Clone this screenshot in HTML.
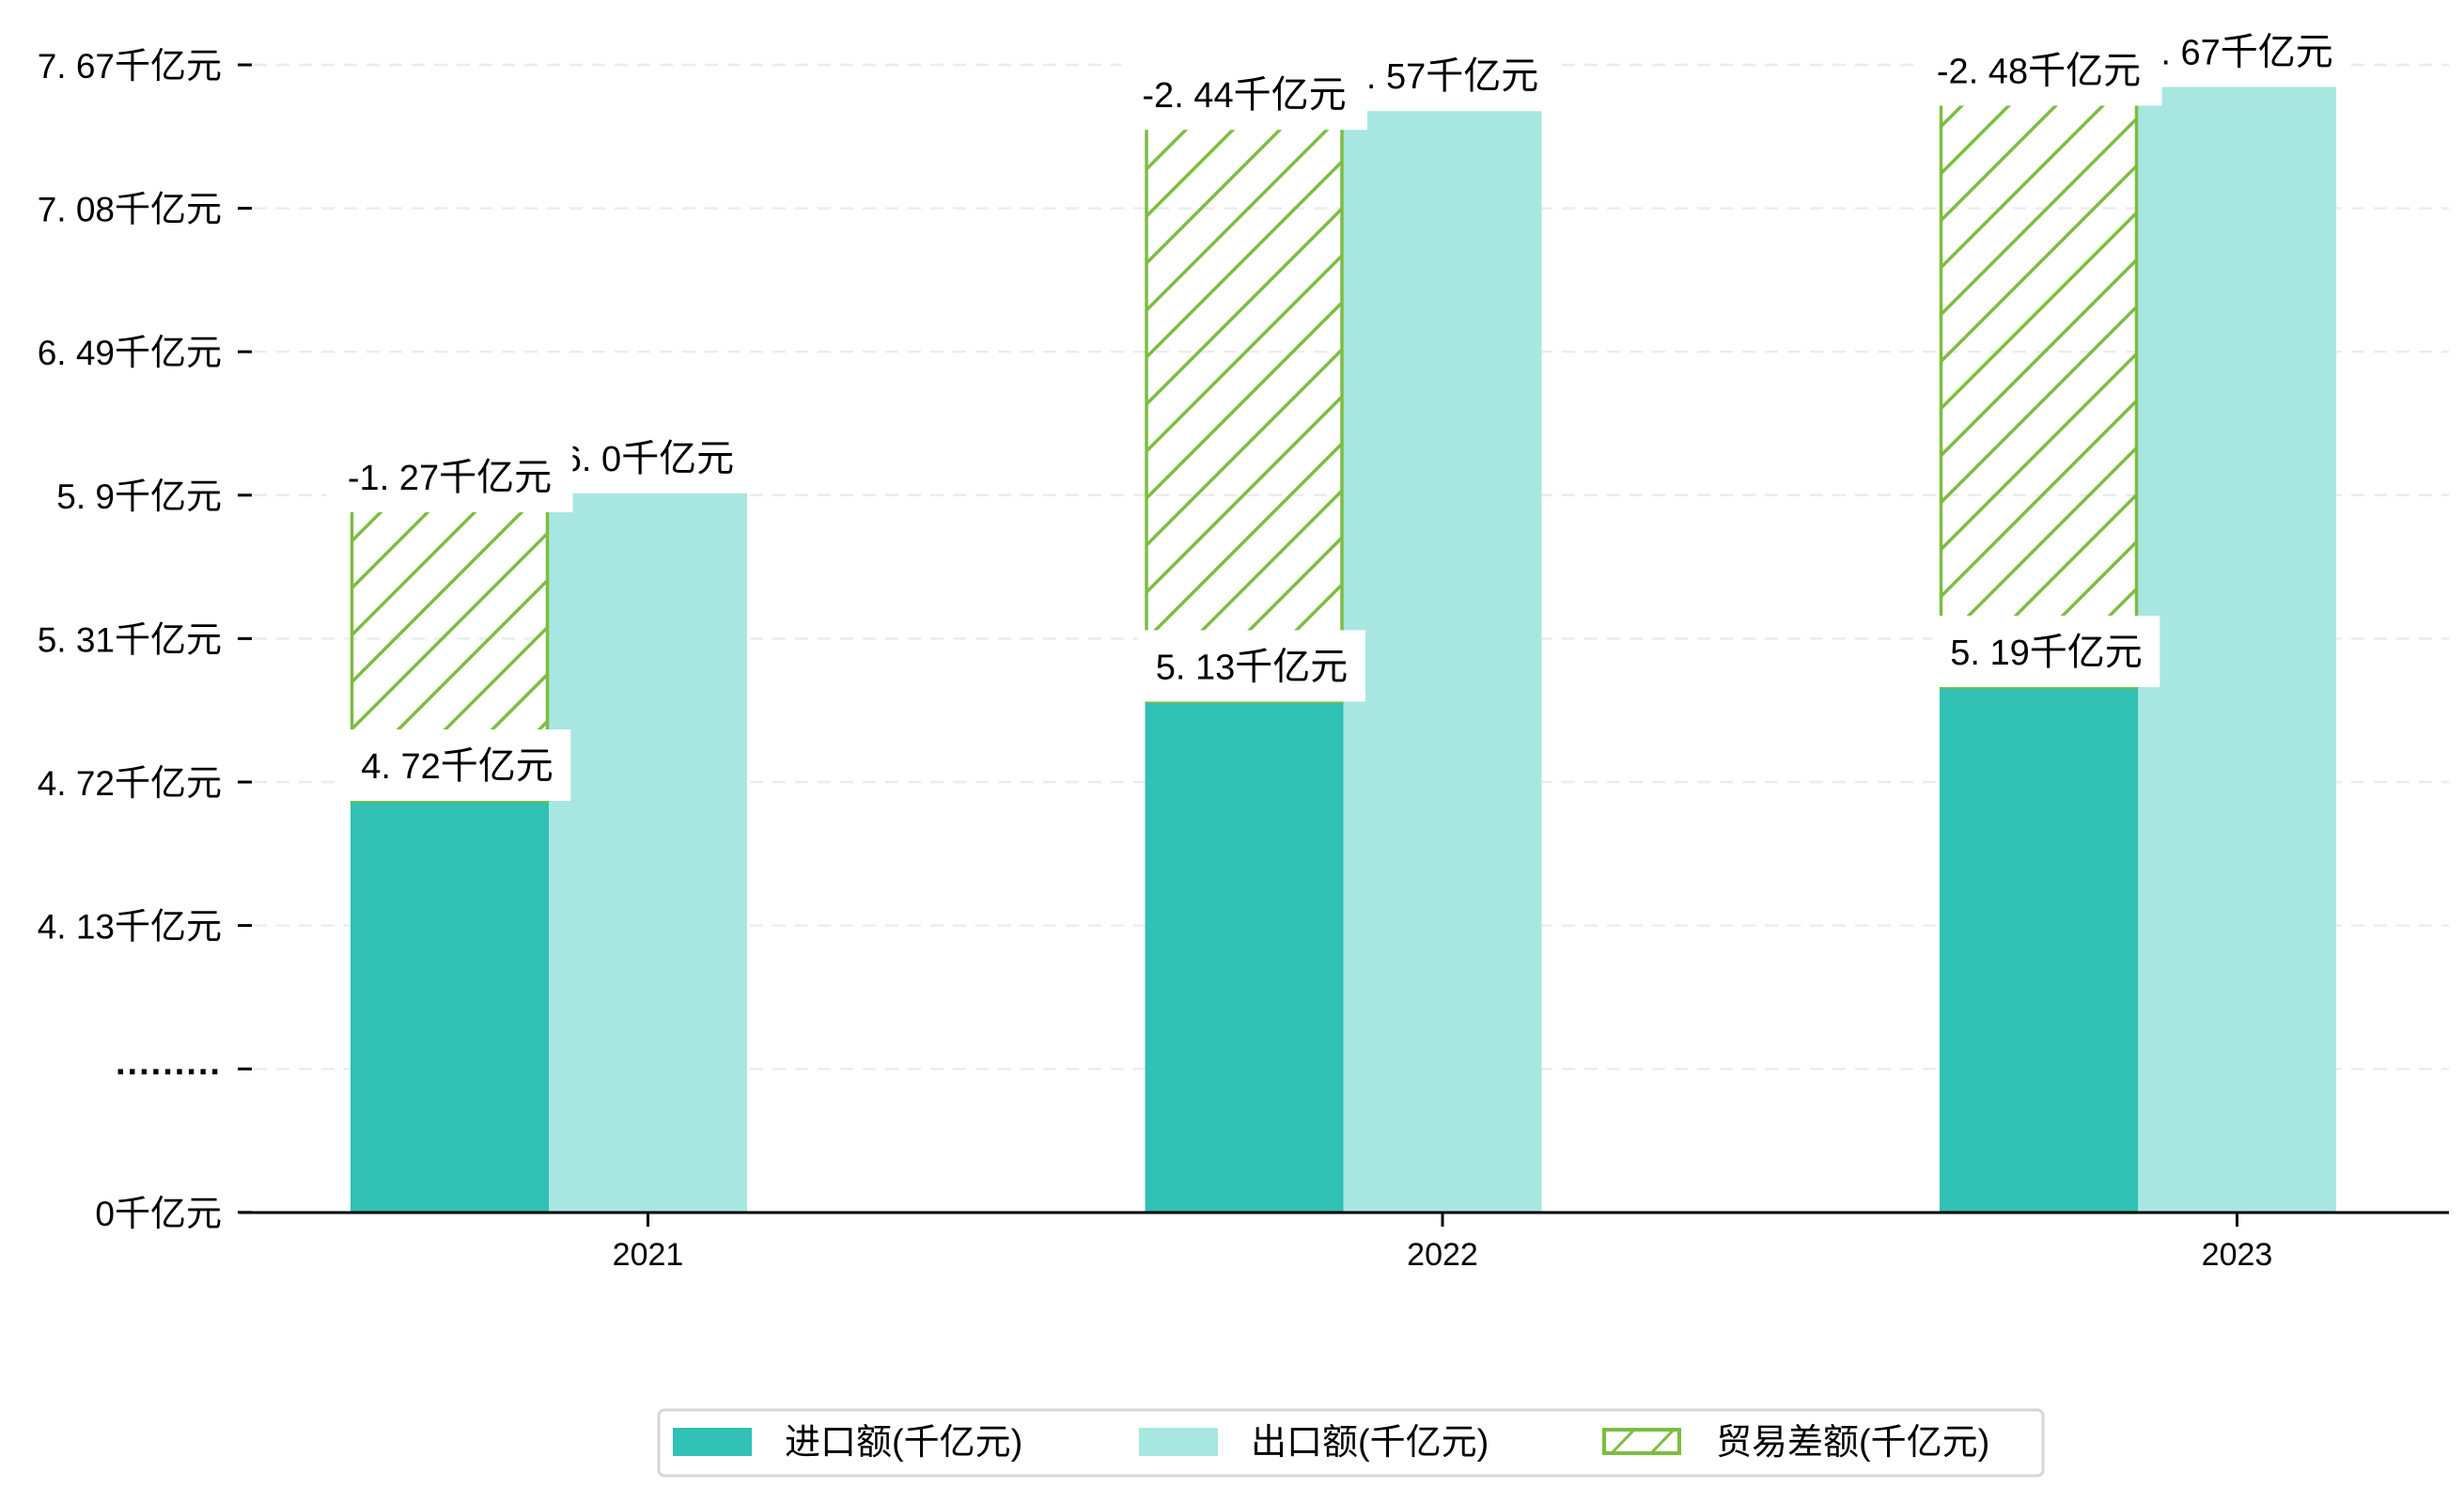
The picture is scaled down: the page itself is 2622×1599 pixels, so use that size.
<!DOCTYPE html>
<html><head><meta charset="utf-8"><style>
html,body{margin:0;padding:0;background:#fff;}
svg{display:block;}
text{font-family:"Liberation Sans","Noto Sans CJK SC",sans-serif;}
</style></head><body>
<svg id="chart" width="2622" height="1599" viewBox="0 0 2622 1599" xmlns="http://www.w3.org/2000/svg">
<defs>
<pattern id="hatch" patternUnits="userSpaceOnUse" width="50" height="50">
<path d="M-5,5 L5,-5 M0,50 L50,0 M45,55 L55,45" stroke="#7cbd41" stroke-width="3.5"/>
</pattern>
</defs>
<g id="grid"></g><g id="bars"></g><g id="axes"></g><g id="labels"></g><g id="legend"></g>
</svg>
<script>
const years = ['2021','2022','2023'];
const importVals = [4.72, 5.13, 5.19];
const exportVals = [5.99, 7.57, 7.67];
const balanceVals = [-1.27, -2.44, -2.48];
const yTickLabels = ['7.67千亿元','7.08千亿元','6.49千亿元','5.9千亿元','5.31千亿元','4.72千亿元','4.13千亿元','………','0千亿元'];
const importText = ['4.72千亿元','5.13千亿元','5.19千亿元'];
const exportText = ['6.0千亿元','7.57千亿元','7.67千亿元'];
const balanceText = ['-1.27千亿元','-2.44千亿元','-2.48千亿元'];

const NS='http://www.w3.org/2000/svg';
const X0=255, X1=2606, Y0=1290;
function yScale(v){ return 852-(v-4.72)*257.5; }
function xLeft(i){ return 373+845.5*i; }
const BW=211;
function mk(tag,attrs,parent){const e=document.createElementNS(NS,tag);for(const k in attrs)e.setAttribute(k,attrs[k]);parent.appendChild(e);return e;}
function setMixed(el,txt,latSize,cjkSize){
  const m=txt.match(/^([\x00-\xff]*)(.*)$/);
  if(m[1]){const a=mk('tspan',{'font-family':'"Liberation Sans",sans-serif','font-size':latSize},el);a.textContent=m[1].replace('.','. ');}
  if(m[2]){const b=mk('tspan',{'font-family':'"Noto Sans CJK SC",sans-serif','font-size':cjkSize},el);b.textContent=m[2];}
}
const grid=document.getElementById('grid'),bars=document.getElementById('bars'),axes=document.getElementById('axes'),labels=document.getElementById('labels'),legend=document.getElementById('legend');

yTickLabels.forEach((t,i)=>{
  const y=69+152.6*i;
  if(i<8){
    const g=mk('line',{x1:270,x2:X1,y1:y,y2:y,stroke:'#ececec','stroke-width':2.5,'stroke-dasharray':'14,10'},grid);
    
    
  }
  const tk=mk('line',{x1:253,x2:268,y1:y,y2:y,stroke:'#000','stroke-width':3},axes);
  
  
  const tx=mk('text',{x:236,y:y+14,'text-anchor':'end',fill:'#000'},axes);
  if(t.startsWith('…')){tx.setAttribute('font-size',38);tx.setAttribute('font-weight','bold');tx.setAttribute('letter-spacing','2');tx.setAttribute('y',y+6);tx.textContent='.........';}
  else setMixed(tx,t,37,38);
  
  
});

function label(txt,cx,bottom,name){
  const nl=txt.replace(/[^\x00-\xff]/g,'').length, nc=(txt.match(/[^\x00-\xff]/g)||[]).length;
  const w=nl*20.4+nc*40+40;
  const r=mk('rect',{x:cx-w/2,y:bottom-76,width:w,height:76,fill:'#fff'},labels);
  
  
  const t=mk('text',{x:cx,y:bottom-24,'text-anchor':'middle',fill:'#000'},labels);
  setMixed(t,txt,38,40);
  
  
}

years.forEach((yr,i)=>{
  const xl=xLeft(i), yi=yScale(importVals[i]), ye=yScale(exportVals[i]);
  const yb=yScale(importVals[i]+Math.abs(balanceVals[i]));
  const a=mk('rect',{x:xl,y:yi,width:BW,height:Y0-yi,fill:'#31c0b4'},bars);
  
  
  const b=mk('rect',{x:xl+BW,y:ye,width:BW,height:Y0-ye,fill:'#a8e7e1'},bars);
  
  
  const c=mk('rect',{x:xl+1.5,y:yb,width:BW-3,height:yi-yb,fill:'url(#hatch)',stroke:'#7cbd41','stroke-width':3.5},bars);
  
  
  const tk=mk('line',{x1:xl+BW*1.5,x2:xl+BW*1.5,y1:Y0,y2:Y0+15,stroke:'#000','stroke-width':3},axes);
  
  
  const tx=mk('text',{x:xl+BW*1.5,y:Y0+56,'text-anchor':'middle','font-size':34,fill:'#000'},axes);
  tx.textContent=yr;
  
  
  label(importText[i],xl+BW/2+8,yi,'import-value-label');
  label(exportText[i],xl+BW*1.5,ye,'export-value-label');
  label(balanceText[i],xl+BW/2,yb+20,'balance-value-label');
});
const ax=mk('line',{x1:X0,x2:X1,y1:Y0,y2:Y0,stroke:'#000','stroke-width':3},axes);



const lb=mk('rect',{x:701,y:1500,width:1473,height:70,rx:6,fill:'#fff',stroke:'#d6d6d6','stroke-width':3},legend);


const legItems=[['进口额(千亿元)','#31c0b4',716,835],['出口额(千亿元)','#a8e7e1',1212,1331],['贸易差额(千亿元)','hatch',1705,1826]];
legItems.forEach(([t,col,px,tx])=>{
  let p;
  if(col==='hatch'){
    p=mk('rect',{x:px+2,y:1521,width:80,height:25,fill:'#fff',stroke:'#7cbd41','stroke-width':4},legend);
    mk('path',{d:`M${px+10},1546 L${px+34},1521 M${px+52},1546 L${px+76},1521`,stroke:'#7cbd41','stroke-width':3},legend);
  } else {
    p=mk('rect',{x:px,y:1519,width:84,height:30,fill:col},legend);
  }
  
  
  const te=mk('text',{x:tx,y:1547,'font-size':38,fill:'#000','font-family':'"Noto Sans CJK SC",sans-serif'},legend);
  te.textContent=t;
  
  
});
</script>
</body></html>
